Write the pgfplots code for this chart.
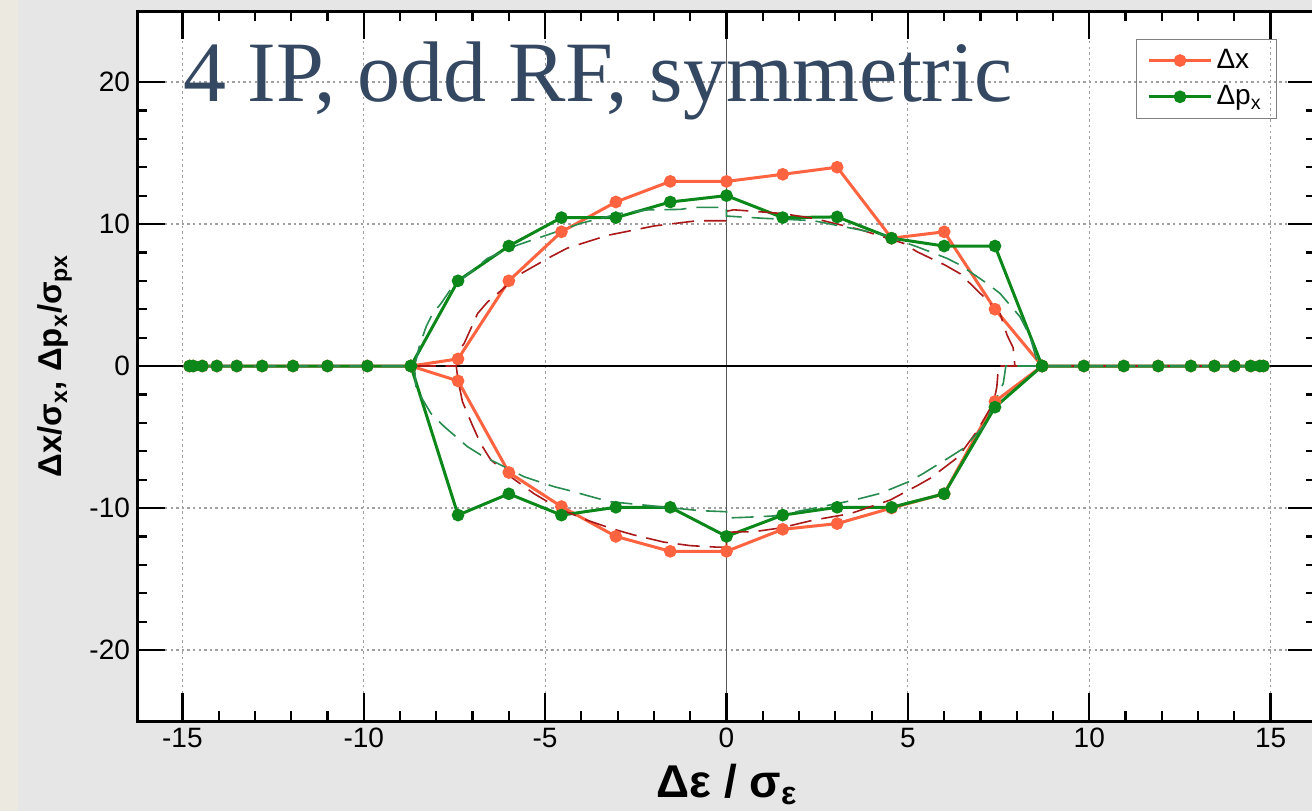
\documentclass[border=0pt]{standalone}
\usepackage{fontspec}
\setmainfont{Liberation Sans}
\newfontfamily\seriffont{Liberation Serif}
\usepackage{pgfplots}
\pgfplotsset{compat=1.18}
\definecolor{bggray}{RGB}{230,230,230}
\definecolor{paper}{RGB}{236,233,225}
\definecolor{dxcol}{RGB}{255,99,64}
\definecolor{dpcol}{RGB}{12,135,25}
\definecolor{fitred}{RGB}{170,25,25}
\definecolor{fitgreen}{RGB}{40,140,80}
\definecolor{titlecol}{RGB}{52,72,98}
\definecolor{gridgray}{RGB}{160,160,160}

\pgfplotstableread{
x y
-14.8 0
-14.7 0
-14.45 0
-14.05 0
-13.5 0
-12.8 0
-11.95 0
-11.0 0
-9.9 0
-8.7 0
-7.4 0.5
-6.0 6.0
-4.55 9.45
-3.05 11.55
-1.55 13.0
0 13.0
1.55 13.5
3.05 14.0
4.55 9.0
6.0 9.45
7.4 4.0
8.7 0
9.85 0
10.95 0
11.9 0
12.8 0
13.45 0
14.0 0
14.45 0
14.7 0
14.8 0
}\dxup
\pgfplotstableread{
x y
-8.7 0
-7.4 -1.05
-6.0 -7.5
-4.55 -9.9
-3.05 -12.0
-1.55 -13.05
0 -13.05
1.55 -11.5
3.05 -11.1
4.55 -10.0
6.0 -9.0
7.4 -2.5
8.7 0
}\dxlo
\pgfplotstableread{
x y
-14.8 0
-14.7 0
-14.45 0
-14.05 0
-13.5 0
-12.8 0
-11.95 0
-11.0 0
-9.9 0
-8.7 0
-7.4 6.0
-6.0 8.45
-4.55 10.45
-3.05 10.45
-1.55 11.55
0 12.0
1.55 10.45
3.05 10.5
4.55 9.0
6.0 8.45
7.4 8.45
8.7 0
9.85 0
10.95 0
11.9 0
12.8 0
13.45 0
14.0 0
14.45 0
14.7 0
14.8 0
}\dpup
\pgfplotstableread{
x y
-8.7 0
-7.4 -10.5
-6.0 -9.0
-4.55 -10.5
-3.05 -9.95
-1.55 -9.95
0 -12.0
1.55 -10.5
3.05 -9.95
4.55 -9.95
6.0 -9.0
7.4 -2.9
8.7 0
}\dplo
\pgfplotstableread{
x y
-14.8 0
-7.45 0
-7.4 1.0
-7.23 1.6
-6.86 3.7
-6.59 4.5
-5.67 6.5
-4.84 7.7
-4.39 8.3
-3.28 9.2
-2.0 9.86
-0.81 10.23
0 10.23
0 10.9
0.2 11.0
1.49 10.75
2.4 10.4
3.69 9.6
4.88 8.64
5.25 8.05
6.03 7.1
6.44 6.5
7.08 4.9
7.54 3.7
7.73 2.2
7.9 1.3
7.95 0
14.8 0
}\fitrup
\pgfplotstableread{
x y
-14.8 0
-7.45 0
-7.4 -1.0
-7.28 -2.5
-7.0 -4.2
-6.77 -5.5
-6.5 -6.6
-5.95 -7.8
-5.3 -9.0
-4.57 -10.1
-3.8 -10.9
-3.1 -11.5
-2.55 -11.9
-1.73 -12.4
-1.0 -12.65
-0.3 -12.75
0 -12.75
0 -11.7
0.75 -11.67
1.5 -11.4
2.4 -10.85
3.41 -10.4
4.51 -9.44
5.29 -8.38
5.62 -7.9
6.39 -6.4
6.9 -4.6
7.36 -2.6
7.45 -1.5
7.5 0
14.8 0
}\fitrlo
\pgfplotstableread{
x y
-14.8 0
-8.6 0
-8.55 0.5
-8.47 1.36
-8.28 2.77
-8.1 3.7
-7.87 4.4
-7.55 5.6
-6.59 7.58
-5.76 8.52
-4.94 9.23
-4.02 10.05
-2.92 10.75
-2.18 10.99
-1.27 11.03
-0.9 11.17
0 11.17
0 10.56
1.03 10.4
2.04 10.28
2.4 10.23
3.69 9.58
4.33 9.23
5.25 8.4
6.08 7.58
6.44 7.11
7.18 5.82
7.54 5.11
8.09 3.47
8.37 2.06
8.55 0.42
8.6 0
14.8 0
}\fitgup
\pgfplotstableread{
x y
-14.8 0
-8.6 0
-8.56 -1.57
-8.15 -3.33
-7.78 -4.27
-7.14 -5.68
-6.77 -6.27
-6.22 -6.97
-5.58 -7.8
-4.75 -8.5
-4.39 -8.73
-3.56 -9.32
-3.19 -9.56
-2.28 -9.79
-0.72 -10.19
0 -10.26
0 -10.7
0.48 -10.66
1.3 -10.56
2.4 -10.02
3.5 -9.45
4.24 -8.97
5.02 -8.15
5.43 -7.56
6.17 -6.39
6.53 -5.8
7.08 -4.27
7.63 -1.22
7.7 0
14.8 0
}\fitglo

\begin{document}
\begin{tikzpicture}
\useasboundingbox (0,0) rectangle (656pt,405.5pt);
\fill[bggray] (0,0) rectangle (656pt,405.5pt);
\fill[paper] (0,0) rectangle (9pt,405.5pt);
\clip (0,0) rectangle (656pt,405.5pt);
\begin{axis}[
  at={(68.5pt,45pt)}, anchor=south west,
  scale only axis, width=589.5pt, height=355pt,
  xmin=-16.25, xmax=16.25, ymin=-25, ymax=25,
  axis background/.style={fill=white},
  axis line style={line width=1.5pt, black},
  tick align=inside,
  xtick={-15,-10,-5,0,5,10,15}, xticklabels={-15,-10,-5,0,5,10,15},
  ytick={-20,-10,0,10,20}, yticklabels={-20,-10,0,10,20},
  minor x tick num=4, minor y tick num=4,
  major tick length=14pt, minor tick length=5pt,
  tick style={black, line width=1.1pt},
  xtick pos=both, ytick pos=both,
  xticklabel pos=lower, yticklabel pos=left,
  grid=major,
  major grid style={gridgray, line width=0.55pt, dash pattern=on 1.2pt off 1.6pt},
  tick label style={font=\fontsize{14}{16}\selectfont},
  legend style={at={(1,1)}, anchor=north east, xshift=-19.5pt, yshift=-14pt,
    draw=gray, fill=none, font=\fontsize{14}{15}\selectfont,
    inner xsep=5.5pt, inner ysep=3pt, row sep=3pt},
  legend cell align=left,
  legend image code/.code={\draw[mark repeat=2,mark phase=2,#1] plot coordinates {(0pt,0pt) (15.5pt,0pt) (31pt,0pt)};},
  clip=false,
]
\draw[gray!70!black, line width=0.6pt] (axis cs:0,-25) -- (axis cs:0,25);
\draw[black, line width=0.6pt] (axis cs:-16.25,0) -- (axis cs:16.25,0);

\addplot[dxcol, line width=1.5pt, mark=*, mark size=2.4pt, mark options={solid, fill=dxcol, draw=dxcol}] table {\dxup};
\addlegendentry{Δx}
\addplot[dxcol, line width=1.5pt, mark=*, mark size=2.4pt, mark options={solid, fill=dxcol, draw=dxcol}, forget plot] table {\dxlo};
\addplot[dpcol, line width=1.5pt, mark=*, mark size=2.4pt, mark options={solid, fill=dpcol, draw=dpcol}] table {\dpup};
\addlegendentry{Δp\textsubscript{x}}
\addplot[dpcol, line width=1.5pt, mark=*, mark size=2.4pt, mark options={solid, fill=dpcol, draw=dpcol}, forget plot] table {\dplo};

\addplot[fitred, line width=0.8pt, dash pattern=on 11pt off 5pt, forget plot] table {\fitrup};
\addplot[fitred, line width=0.8pt, dash pattern=on 11pt off 5pt, forget plot] table {\fitrlo};
\addplot[fitgreen, line width=0.8pt, dash pattern=on 11pt off 5pt, forget plot] table {\fitgup};
\addplot[fitgreen, line width=0.8pt, dash pattern=on 11pt off 5pt, forget plot] table {\fitglo};
\end{axis}
% major ticks, drawn over the finished axis
\foreach \i in {0,...,6} {
  \pgfmathsetmacro{\xx}{68.5 + (1.25+5*\i)/32.5*589.5}
  \draw[black, line width=1.2pt] (\xx pt,45pt) -- (\xx pt,59pt);
  \draw[black, line width=1.2pt] (\xx pt,400pt) -- (\xx pt,386pt);
}
\foreach \j in {0,...,4} {
  \pgfmathsetmacro{\yy}{45 + (5+10*\j)/50*355}
  \draw[black, line width=1.2pt] (68.5pt,\yy pt) -- (82.5pt,\yy pt);
  \draw[black, line width=1.2pt] (658pt,\yy pt) -- (644pt,\yy pt);
}
\node[anchor=base west, inner sep=0pt, text=titlecol, font=\seriffont\fontsize{43}{50}\selectfont] at (91.5pt,355pt) {4 IP, odd RF, symmetric};
\node[rotate=90, font=\bfseries\fontsize{16.5}{20}\selectfont] at (27.5pt,222.5pt) {Δx/σ\textsubscript{x}, Δp\textsubscript{x}/σ\textsubscript{px}};
\node[anchor=base, inner sep=0pt, font=\bfseries\fontsize{23}{27}\selectfont] at (363.5pt,7pt) {Δε / σ\textsubscript{ε}};
\end{tikzpicture}
\end{document}
